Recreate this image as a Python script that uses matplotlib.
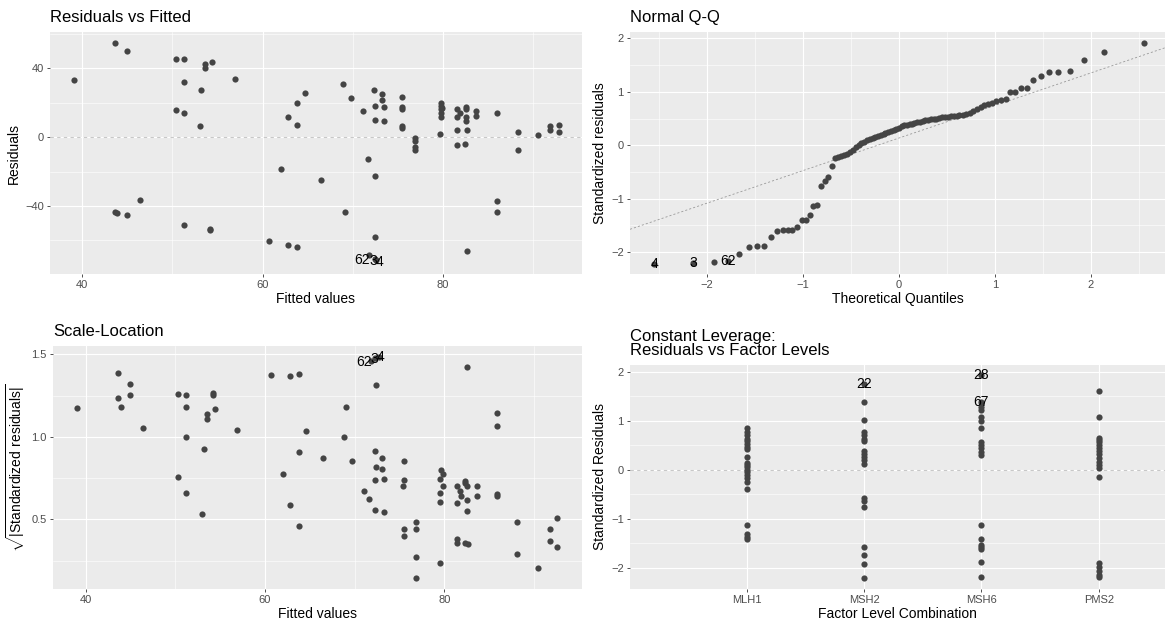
import matplotlib.pyplot as plt
from matplotlib.ticker import MultipleLocator

plt.rcParams['font.family'] = ['Liberation Sans', 'DejaVu Sans']
plt.rcParams['mathtext.fontset'] = 'custom'
plt.rcParams['mathtext.rm'] = 'Liberation Sans'

# residuals vs fitted
rvf_fitted = [39.1, 43.6, 45.0, 50.35, 51.25, 53.6, 53.6, 54.4, 51.25, 53.2, 56.9, 50.35, 51.25, 53.05,
              62.8, 63.8, 63.8, 62.0, 46.4, 43.6, 43.85, 45.0, 51.25, 54.2, 54.2, 60.7, 62.8, 63.8,
              64.7, 66.5, 68.9, 69.75, 69.1, 71.1, 71.7, 72.35, 72.4, 72.4, 72.5, 72.5, 73.2, 73.2,
              73.4, 73.4, 75.5, 75.5, 75.5, 75.5, 75.5, 76.9, 76.9, 76.9, 76.9, 79.65, 79.75, 79.75,
              79.75, 79.75, 79.75, 79.9, 81.5, 81.5, 81.5, 81.5, 81.9, 82.5, 82.5, 82.5, 82.5, 82.6,
              82.4, 82.6, 83.7, 83.7, 86.0, 86.0, 86.0, 88.3, 88.3, 90.5, 91.9, 91.9, 92.8, 92.8,
              71.8, 72.4, 72.6]
rvf_resid = [33.1, 54.9, 49.9, 45.5, 45.1, 42.4, 40.1, 43.7, 32.2, 27.4, 33.5, 16.0, 13.9, 6.7,
             11.4, 19.7, 6.8, -18.7, -36.4, -43.5, -43.9, -45.1, -51.3, -53.2, -54.1, -60.5, -62.6, -63.6,
             25.6, -25.0, 31.0, 22.4, -43.7, 15.0, -12.7, 27.6, 18.1, 10.0, -22.4, -58.0, 24.9, 21.6,
             17.7, 9.4, 23.5, 17.7, 16.4, 6.6, 5.0, -0.8, -2.3, -6.0, -7.7, 1.7, 20.0, 18.1,
             16.2, 13.9, 11.9, 16.6, 16.2, 11.9, 4.0, -4.8, 13.9, 17.7, 16.2, 11.6, 9.6, 4.0,
             -4.2, -65.9, 15.4, 12.3, 13.9, -37.4, -43.5, 2.7, -7.7, 1.3, 6.2, 4.2, 7.1, 2.9,
             -68.6, -70.6, -71.3]
rvf_labels = ['62', '3', '4']
rvf_label_x = [71.0, 72.3, 72.9]
rvf_label_y = [-71.3, -72.0, -72.8]

# normal q-q
qq_theory = [-2.55, -2.14, -1.93, -1.78, -1.66, -1.56, -1.48, -1.40, -1.33, -1.27, -1.21, -1.16,
             -1.11, -1.06, -1.01, -0.97, -0.93, -0.89, -0.85, -0.81, -0.77, -0.74, -0.70, -0.67,
             -0.63, -0.60, -0.57, -0.54, -0.51, -0.48, -0.45, -0.42, -0.39, -0.36, -0.33, -0.30,
             -0.27, -0.25, -0.22, -0.19, -0.16, -0.14, -0.11, -0.08, -0.05, -0.03, 0.00,
             0.03, 0.05, 0.08, 0.11, 0.14, 0.16, 0.19, 0.22, 0.25, 0.27, 0.30, 0.33, 0.36,
             0.39, 0.42, 0.45, 0.48, 0.51, 0.54, 0.57, 0.60, 0.63, 0.67, 0.70, 0.74, 0.77,
             0.81, 0.85, 0.89, 0.93, 0.97, 1.01, 1.06, 1.11, 1.16, 1.21, 1.27, 1.33, 1.40,
             1.48, 1.56, 1.66, 1.78, 1.93, 2.14, 2.55]
qq_sample = [-2.23, -2.20, -2.18, -2.17, -2.03, -1.90, -1.89, -1.88, -1.72, -1.61, -1.58, -1.58,
             -1.58, -1.53, -1.39, -1.39, -1.31, -1.13, -1.11, -0.76, -0.66, -0.60, -0.39, -0.24,
             -0.22, -0.21, -0.19, -0.16, -0.12, -0.08, -0.03, 0.00, 0.04, 0.07, 0.09, 0.11,
             0.13, 0.15, 0.17, 0.19, 0.21, 0.23, 0.25, 0.27, 0.29, 0.31, 0.33,
             0.355, 0.37, 0.38, 0.39, 0.40, 0.415, 0.43, 0.44, 0.455, 0.465, 0.475, 0.485, 0.49,
             0.50, 0.51, 0.52, 0.525, 0.535, 0.54, 0.55, 0.555, 0.56, 0.565, 0.59, 0.61, 0.64,
             0.68, 0.72, 0.745, 0.77, 0.80, 0.83, 0.85, 0.86, 0.994, 0.994, 1.075, 1.075, 1.23,
             1.29, 1.37, 1.38, 1.385, 1.59, 1.75, 1.92]
qq_labels = ['4', '3', '62']
qq_label_idx = [0, 1, 3]
qq_line_intercept = 0.135
qq_line_slope = 0.61

# scale-location
sl_fitted = [39.0, 43.6, 43.6, 43.9, 45.0, 45.0, 46.35, 50.3, 51.2, 51.2, 51.2, 50.3, 51.2, 53.15,
             53.0, 53.55, 53.55, 54.2, 54.2, 54.4, 56.9, 60.7, 62.8, 63.8, 62.05, 62.8, 63.8, 63.8,
             64.6, 66.5, 69.05, 68.85, 69.7, 71.05, 71.65, 72.3, 72.4, 72.4, 72.3, 72.3, 73.1, 73.1,
             73.3, 73.3, 75.45, 75.45, 75.4, 75.45, 75.45, 76.85, 76.85, 76.85, 76.85, 79.65, 79.8,
             79.55, 79.8, 79.55, 79.55, 79.55, 81.4, 81.75, 81.85, 81.4, 81.4, 81.4, 82.35, 82.35,
             82.55, 82.5, 82.55, 82.35, 82.6, 82.55, 83.6, 83.6, 85.85, 85.85, 85.85, 85.85, 88.1,
             88.1, 90.4, 91.8, 91.8, 92.6, 92.6,
             71.8, 72.3, 72.7]
sl_sqrt_std = [1.177, 1.385, 1.233, 1.183, 1.322, 1.254, 1.052, 1.262, 1.254, 1.179, 0.997, 0.755, 0.660, 0.924,
               0.534, 1.136, 1.110, 1.268, 1.254, 1.169, 1.039, 1.375, 1.369, 1.379, 0.773, 0.589, 0.910, 0.460,
               1.035, 0.874, 1.181, 0.999, 0.852, 0.674, 0.621, 0.916, 1.312, 0.817, 0.738, 0.555, 0.870, 0.805,
               0.742, 0.542, 0.854, 0.738, 0.704, 0.443, 0.399, 0.486, 0.439, 0.274, 0.144, 0.799, 0.775,
               0.742, 0.700, 0.660, 0.605, 0.233, 0.702, 0.674, 0.639, 0.599, 0.383, 0.359, 0.722, 0.732,
               0.702, 0.617, 0.548, 0.359, 0.353, 1.421, 0.704, 0.639, 1.146, 1.063, 0.654, 0.639, 0.484,
               0.292, 0.207, 0.443, 0.371, 0.508, 0.330,
               1.46, 1.475, 1.485]
sl_labels = ['62', '3', '4']
sl_label_x = [71.07, 72.2, 72.85]
sl_label_y = [1.456, 1.47, 1.486]

# residuals vs factor levels
levels = ['MLH1', 'MSH2', 'MSH6', 'PMS2']
mlh1 = [0.85, 0.78, 0.72, 0.64, 0.58, 0.52, 0.47, 0.42, 0.27, 0.14, 0.10, 0.05, 0.0, -0.05, -0.10,
        -0.16, -0.24, -0.39, -1.12, -1.30, -1.36, -1.42]
msh2 = [1.75, 1.39, 1.02, 0.78, 0.71, 0.64, 0.58, 0.39, 0.33, 0.27, 0.20, 0.12, -0.58, -0.64, -0.75,
        -1.57, -1.73, -1.91, -2.20]
msh6 = [1.93, 1.39, 1.29, 1.22, 1.08, 1.00, 0.85, 0.56, 0.51, 0.44, 0.37, 0.31, -1.12, -1.41, -1.53,
        -1.57, -1.61, -1.88, -2.19]
pms2 = [1.61, 1.08, 0.66, 0.61, 0.56, 0.51, 0.45, 0.39, 0.32, 0.24, 0.17, 0.10, 0.03, -0.14, -1.90,
        -1.99, -2.07, -2.14, -2.19]
fl_labels = ['22', '28', '67']
fl_label_level = [1, 2, 2]
fl_label_y = [1.75, 1.93, 1.39]

W, H = 1167, 628
fig = plt.figure(figsize=(W / 100, H / 100), dpi=100)


def box(l, t, r, b):
    return [l / W, 1 - b / H, (r - l) / W, (b - t) / H]


def style(ax, title, xlabel, ylabel):
    ax.set_facecolor('#EBEBEB')
    for s in ax.spines.values():
        s.set_visible(False)
    ax.grid(which='major', color='white', lw=0.85)
    ax.grid(which='minor', color='white', lw=0.4)
    ax.set_axisbelow(True)
    ax.tick_params(which='major', length=2.5, width=0.6, color='#333333',
                   labelcolor='#4D4D4D', labelsize=8, pad=2)
    ax.tick_params(which='minor', length=0)
    ax.set_title(title, loc='left', fontsize=12, pad=7, linespacing=0.95)
    ax.set_xlabel(xlabel, fontsize=10, labelpad=1)
    ax.set_ylabel(ylabel, fontsize=10, labelpad=3)


pt = dict(s=20, color='#444444', linewidths=0, zorder=3)

# panel 1
ax1 = fig.add_axes(box(50, 32, 582, 274))
ax1.scatter(rvf_fitted, rvf_resid, **pt)
ax1.axhline(0, color='#C8C8C8', lw=0.8, ls=(0, (3, 3)), zorder=2)
for lab, x, y in zip(rvf_labels, rvf_label_x, rvf_label_y):
    ax1.text(x, y, lab, ha='center', va='center', fontsize=10, zorder=4)
ax1.set_xlim(36.43, 95.4)
ax1.set_ylim(-79.5, 61)
ax1.xaxis.set_major_locator(MultipleLocator(20))
ax1.xaxis.set_minor_locator(MultipleLocator(10))
ax1.yaxis.set_major_locator(MultipleLocator(40))
ax1.yaxis.set_minor_locator(MultipleLocator(20))
style(ax1, 'Residuals vs Fitted', 'Fitted values', 'Residuals')

# panel 2
ax2 = fig.add_axes(box(630, 32, 1165, 274))
ax2.scatter(qq_theory, qq_sample, **pt)
ax2.axline((0, qq_line_intercept), slope=qq_line_slope, color='#999999', lw=0.6,
           ls=(0, (2.5, 2.5)), zorder=2)
for lab, i in zip(qq_labels, qq_label_idx):
    ax2.text(qq_theory[i], qq_sample[i], lab, ha='center', va='center', fontsize=10, zorder=4)
ax2.set_xlim(-2.80, 2.77)
ax2.set_ylim(-2.41, 2.12)
ax2.xaxis.set_major_locator(MultipleLocator(1))
ax2.xaxis.set_minor_locator(MultipleLocator(0.5))
ax2.yaxis.set_major_locator(MultipleLocator(1))
ax2.yaxis.set_minor_locator(MultipleLocator(0.5))
style(ax2, 'Normal Q-Q', 'Theoretical Quantiles', 'Standardized residuals')

# panel 3
ax3 = fig.add_axes(box(53, 346, 582, 589))
ax3.scatter(sl_fitted, sl_sqrt_std, **pt)
for lab, x, y in zip(sl_labels, sl_label_x, sl_label_y):
    ax3.text(x, y, lab, ha='center', va='center', fontsize=10, zorder=4)
ax3.set_xlim(36.36, 95.35)
ax3.set_ylim(0.078, 1.55)
ax3.xaxis.set_major_locator(MultipleLocator(20))
ax3.xaxis.set_minor_locator(MultipleLocator(10))
ax3.yaxis.set_major_locator(MultipleLocator(0.5))
ax3.yaxis.set_minor_locator(MultipleLocator(0.25))
ax3.yaxis.set_major_formatter(plt.FormatStrFormatter('%.1f'))
style(ax3, 'Scale-Location', 'Fitted values', r'$\sqrt{|\mathrm{Standardized\ residuals}|}$')

# panel 4
ax4 = fig.add_axes(box(630, 365, 1165, 589))
for k, vals in enumerate([mlh1, msh2, msh6, pms2]):
    ax4.scatter([k + 1] * len(vals), vals, **pt)
ax4.axhline(0, color='#C8C8C8', lw=0.8, ls=(0, (3, 3)), zorder=2)
for lab, k, y in zip(fl_labels, fl_label_level, fl_label_y):
    ax4.text(k + 1, y, lab, ha='center', va='center', fontsize=10, zorder=4)
ax4.set_xlim(0.005, 4.565)
ax4.set_ylim(-2.43, 2.14)
ax4.set_xticks(range(1, 5))
ax4.set_xticklabels(levels)
ax4.yaxis.set_major_locator(MultipleLocator(1))
ax4.yaxis.set_minor_locator(MultipleLocator(0.5))
style(ax4, 'Constant Leverage:\nResiduals vs Factor Levels', 'Factor Level Combination',
      'Standardized Residuals')
ax4.grid(which='minor', axis='x', visible=False)

fig.savefig('out.png', dpi=100)
